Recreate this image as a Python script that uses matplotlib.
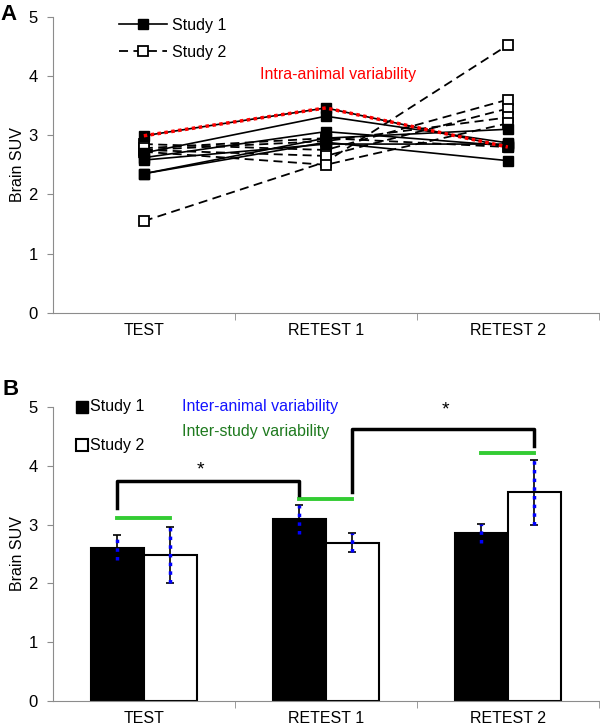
import numpy as np
import matplotlib
matplotlib.use("Agg")
import matplotlib.pyplot as plt

plt.rcParams['font.family'] = ['Liberation Sans', 'DejaVu Sans']

sessions = ["TEST", "RETEST 1", "RETEST 2"]

# panel A: individual animals
study1_animals = [
    [2.99, 3.46, 2.80],
    [2.70, 3.32, 2.87],
    [2.62, 3.06, 2.82],
    [2.35, 2.95, 3.10],
    [2.35, 2.88, 2.57],
    [2.58, 2.85, 2.85],
]
study2_animals = [
    [1.55, 2.55, 4.52],
    [2.85, 2.75, 3.60],
    [2.75, 2.65, 3.45],
    [2.75, 2.90, 3.30],
    [2.72, 2.50, 3.20],
    [2.78, 2.95, 2.80],
]
red_animal = study1_animals[0]

# panel B: means and SD
study1_mean = [2.61, 3.09, 2.85]
study1_sd = [0.22, 0.25, 0.16]
study2_mean = [2.48, 2.69, 3.55]
study2_sd = [0.48, 0.16, 0.55]
inter_study_y = [3.12, 3.43, 4.22]

fig = plt.figure(figsize=(6, 7.26), dpi=100)
axA = fig.add_axes([0.088, 0.569, 0.91, 0.408])
axB = fig.add_axes([0.088, 0.0344, 0.91, 0.405])

x = np.arange(len(sessions))

def style_axis(ax):
    for s in ["top", "right"]:
        ax.spines[s].set_visible(False)
    for s in ["left", "bottom"]:
        ax.spines[s].set_color("#8c8c8c")
    ax.set_xlim(-0.5, 2.5)
    ax.set_ylim(0, 5)
    ax.set_yticks([0, 1, 2, 3, 4, 5])
    ax.set_xticks(x)
    ax.set_xticklabels(sessions)
    ax.set_xticks([0.5, 1.5, 2.5], minor=True)
    ax.tick_params(axis="x", which="major", length=0, pad=7, labelsize=11.5)
    ax.tick_params(axis="x", which="minor", length=5, color="#8c8c8c")
    ax.tick_params(axis="y", length=4, color="#8c8c8c", labelsize=12, pad=7)
    ax.set_ylabel("Brain SUV", fontsize=11.5, labelpad=2)

# ---- panel A ----
style_axis(axA)
for i, a in enumerate(study2_animals):
    axA.plot(x, a, color="black", ls=(0, (5, 3)), lw=1.3, marker="s", ms=7.5,
             mfc="white", mec="black", mew=1.3,
             label="Study 2" if i == 0 else None, zorder=3)
for i, a in enumerate(study1_animals):
    axA.plot(x, a, color="black", ls="-", lw=1.2, marker="s", ms=7.5,
             mfc="black", mec="black",
             label="Study 1" if i == 0 else None, zorder=4)
axA.plot(x, red_animal, color="red", ls=(0, (1, 1)), lw=2.5, zorder=5)
axA.text(0.64, 4.02, "Intra-animal variability", color="red", fontsize=11.5,
         va="center", ha="left")
h, l = axA.get_legend_handles_labels()
axA.legend(h[::-1], l[::-1], loc="upper left", bbox_to_anchor=(0.095, 1.045),
           frameon=False, fontsize=11.5, handlelength=3.0, labelspacing=0.75,
           handletextpad=0.3)
fig.text(0.0, 0.995, "A", fontsize=16, fontweight="bold", va="top")

# ---- panel B ----
style_axis(axB)
w = 0.29
axB.bar(x - w / 2, study1_mean, w, color="black", edgecolor="black", lw=1.5, zorder=2)
axB.bar(x + w / 2, study2_mean, w, color="white", edgecolor="black", lw=1.5, zorder=2)
for xs, m, sd in [(x - w / 2, study1_mean, study1_sd), (x + w / 2, study2_mean, study2_sd)]:
    axB.errorbar(xs, m, yerr=sd, fmt="none", ecolor="black", elinewidth=1.2,
                 capsize=3, capthick=1.2, zorder=3)
    for xi, mi, si in zip(xs, m, sd):
        axB.plot([xi, xi], [mi - si, mi + si], color="blue", ls=(0, (1, 1.5)),
                 lw=2.5, zorder=4)
for xi, yi in zip(x, inter_study_y):
    axB.plot([xi - w / 2, xi + w / 2], [yi, yi], color="#33cc33", lw=2.8, zorder=3)

# significance brackets
axB.plot([-w / 2, -w / 2, 1 - w / 2, 1 - w / 2], [3.28, 3.75, 3.75, 3.50],
         color="black", lw=2.5, zorder=3)
axB.text(0.31, 3.93, "*", fontsize=14, ha="center", va="center")
axB.plot([1 + w / 2, 1 + w / 2, 2 + w / 2, 2 + w / 2], [3.56, 4.62, 4.62, 4.34],
         color="black", lw=2.5, zorder=3)
axB.text(1.66, 4.95, "*", fontsize=14, ha="center", va="center")

# legend & annotations
axB.plot([-0.34], [5.0], marker="s", ms=8, mfc="black", mec="black", clip_on=False)
axB.plot([-0.34], [4.35], marker="s", ms=8, mfc="white", mec="black", mew=1.5, clip_on=False)
axB.text(-0.295, 5.0, "Study 1", fontsize=11.5, va="center")
axB.text(-0.295, 4.35, "Study 2", fontsize=11.5, va="center")
axB.text(0.21, 5.0, "Inter-animal variability", color="#1414ff", fontsize=11.5, va="center")
axB.text(0.21, 4.58, "Inter-study variability", color="#1f7a1f", fontsize=11.5, va="center")
fig.text(0.005, 0.478, "B", fontsize=16, fontweight="bold", va="top")

fig.savefig("out.png", dpi=100)
